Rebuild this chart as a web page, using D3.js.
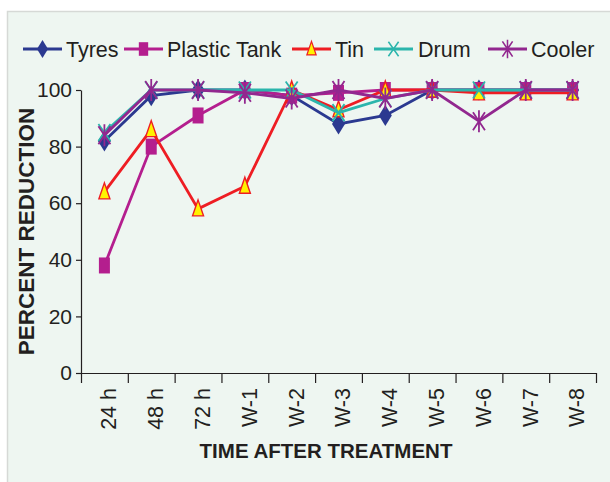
<!DOCTYPE html>
<html>
<head>
<meta charset="utf-8">
<script src="https://cdn.jsdelivr.net/npm/d3@7"></script>
<style>
  body { margin: 0; background: #fff; }
  text { font-family: Arial, "Liberation Sans", sans-serif; fill: #231f20; }
</style>
</head>
<body>
<div id="chart"></div>
<script>
// ---- data ----
var categories = ["24 h", "48 h", "72 h", "W-1", "W-2", "W-3", "W-4", "W-5", "W-6", "W-7", "W-8"];
var tyres       = [82, 98, 100, 100, 98, 88, 91, 100, 100, 100, 100];
var plasticTank = [38, 80, 91, 100, 98, 99, 100, 100, 100, 100, 100];
var tin         = [64, 86, 58, 66, 100, 93, 100, 100, 99, 99, 99];
var drum        = [85, 100, 100, 100, 100, 92, 97, 100, 100, 100, 100];
var cooler      = [84, 100, 100, 99, 97, 100, 97, 100, 89, 100, 100];
var yTicks = [0, 20, 40, 60, 80, 100];

var seriesNames = ["Tyres", "Plastic Tank", "Tin", "Drum", "Cooler"];
var seriesValues = [tyres, plasticTank, tin, drum, cooler];
var seriesColors = ["#2b3990", "#b41e8e", "#ee1d23", "#2bb5ac", "#92278f"];
var seriesMarkers = ["diamond", "square", "triangle", "xmark", "asterisk"];

var width = 610, height = 482;
var margin = { left: 81, right: 14, top: 90, bottom: 109 };

var svg = d3.select('#chart').append('svg')
  .attr('width', width)
  .attr('height', height);

// panel background
svg.append('rect')
  .attr('x', 7.5).attr('y', 11.5)
  .attr('width', width).attr('height', height)
  .attr('fill', '#eef6f1')
  .attr('stroke', '#d6d9d6')
  .attr('stroke-width', 1.5);

var x = d3.scaleBand()
  .domain(categories)
  .range([margin.left, width - margin.right]);

var xEdges = d3.scaleLinear()
  .domain([0, categories.length])
  .range([margin.left, width - margin.right]);

var y = d3.scaleLinear()
  .domain([0, 100])
  .range([height - margin.bottom, margin.top]);

// y axis
var yAxis = svg.append('g')
  .attr('transform', 'translate(' + margin.left + ',0)')
  .call(d3.axisLeft(y).tickValues(yTicks).tickSize(5).tickSizeOuter(0).tickPadding(4));
yAxis.selectAll('text').style('font-size', '21px').attr('fill', '#231f20');

// x axis: edge ticks
svg.append('g')
  .attr('transform', 'translate(0,' + y(0) + ')')
  .call(d3.axisBottom(xEdges).ticks(categories.length).tickSize(10).tickSizeOuter(0).tickFormat(''));

// x axis labels
var xLab = svg.append('g')
  .attr('transform', 'translate(0,' + y(0) + ')')
  .call(d3.axisBottom(x).tickSize(0).tickPadding(15));
xLab.select('.domain').remove();
xLab.selectAll('text')
  .style('font-size', '21.5px')
  .attr('fill', '#231f20')
  .attr('text-anchor', 'end')
  .attr('transform', 'rotate(-90)')
  .attr('x', -15)
  .attr('y', 0)
  .attr('dy', '0.55em');

svg.selectAll('.domain, .tick line').attr('stroke', '#231f20').attr('stroke-width', 1.2);

// axis titles
svg.append('text')
  .attr('x', 326).attr('y', 458)
  .attr('text-anchor', 'middle')
  .style('font-size', '20.5px')
  .style('font-weight', 'bold')
  .text('TIME AFTER TREATMENT');

svg.append('text')
  .attr('transform', 'translate(34,' + y(50) + ') rotate(-90)')
  .attr('text-anchor', 'middle')
  .style('font-size', '22.5px')
  .style('font-weight', 'bold')
  .text('PERCENT REDUCTION');

// markers
function marker(g, type, color) {
  if (type === 'diamond') {
    g.append('path').attr('d', 'M0,-10.5L6.5,0L0,10.5L-6.5,0Z').attr('fill', color);
  } else if (type === 'square') {
    g.append('rect').attr('x', -5.5).attr('y', -8).attr('width', 11).attr('height', 16).attr('fill', color);
  } else if (type === 'triangle') {
    g.append('path').attr('d', 'M0,-9L5.5,7L-5.5,7Z')
      .attr('fill', '#fff200').attr('stroke', color).attr('stroke-width', 1.4);
  } else if (type === 'xmark') {
    g.append('path').attr('d', 'M-6,-8.5L6,8.5M-6,8.5L6,-8.5')
      .attr('stroke', color).attr('stroke-width', 1.8).attr('fill', 'none');
  } else {
    g.append('path').attr('d', 'M-6,-9L6,9M-6,9L6,-9M0,-11L0,11')
      .attr('stroke', color).attr('stroke-width', 1.8).attr('fill', 'none');
  }
}

var line = d3.line()
  .x(function (d, i) { return x(categories[i]) + x.bandwidth() / 2; })
  .y(function (d) { return y(d); });

seriesValues.forEach(function (vals, s) {
  var g = svg.append('g').attr('class', 'series');
  g.append('path')
    .datum(vals)
    .attr('d', line)
    .attr('fill', 'none')
    .attr('stroke', seriesColors[s])
    .attr('stroke-width', 2.8);
  vals.forEach(function (v, i) {
    var m = g.append('g')
      .attr('transform', 'translate(' + (x(categories[i]) + x.bandwidth() / 2) + ',' + y(v) + ')');
    marker(m, seriesMarkers[s], seriesColors[s]);
  });
});

// legend
var legendX = [23, 124, 292, 374, 488];
var legendTextX = [66, 167, 335, 418, 531];
var legend = svg.append('g').attr('class', 'legend');
seriesNames.forEach(function (name, s) {
  legend.append('line')
    .attr('x1', legendX[s]).attr('x2', legendX[s] + 39)
    .attr('y1', 49).attr('y2', 49)
    .attr('stroke', seriesColors[s])
    .attr('stroke-width', 2.8);
  var m = legend.append('g').attr('transform', 'translate(' + (legendX[s] + 19.5) + ',49) scale(0.85)');
  marker(m, seriesMarkers[s], seriesColors[s]);
  legend.append('text')
    .attr('x', legendTextX[s]).attr('y', 56.5)
    .style('font-size', '21.5px')
    .text(name);
});
</script>
</body>
</html>
